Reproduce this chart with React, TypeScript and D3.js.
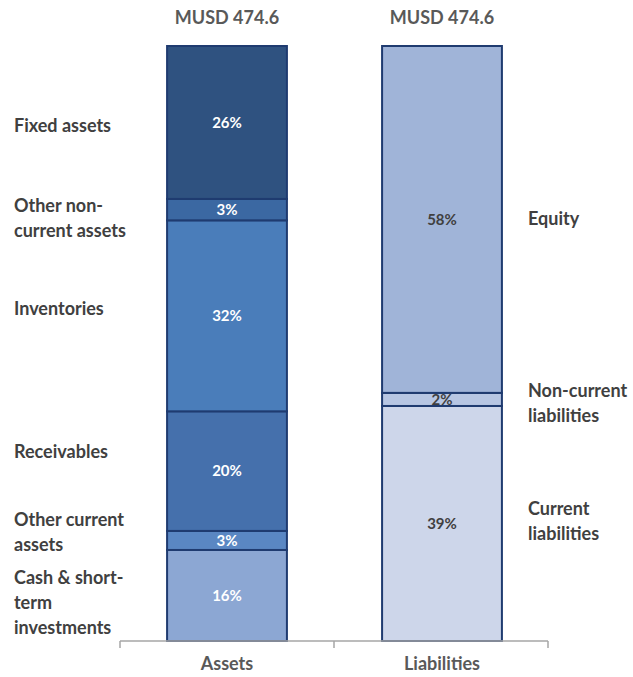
import React from "react";
import * as d3 from "d3";

const categories = ["Assets", "Liabilities"];
const totals = ["MUSD 474.6", "MUSD 474.6"];

// bottom-to-top stacks
const assetNames = ["Cash & short-term investments", "Other current assets", "Receivables", "Inventories", "Other non-current assets", "Fixed assets"];
const assetValues = [15.3, 3.2, 20.1, 32.1, 3.6, 25.7];
const assetLabels = ["16%", "3%", "20%", "32%", "3%", "26%"];

const liabNames = ["Current liabilities", "Non-current liabilities", "Equity"];
const liabValues = [39.5, 2.2, 58.3];
const liabLabels = ["39%", "2%", "58%"];

const assetColors = ["#8CA7D3", "#5A87C3", "#4570AC", "#4A7DBA", "#3B68A2", "#2F5280"];
const liabColors = ["#CDD6EA", "#B7C6E3", "#A0B4D8"];

// side annotation text layout (lines, anchor y of first line center)
const leftNotes = [
  { lines: ["Fixed assets"], y: 126 },
  { lines: ["Other non-", "current assets"], y: 206 },
  { lines: ["Inventories"], y: 309 },
  { lines: ["Receivables"], y: 452 },
  { lines: ["Other current", "assets"], y: 520 },
  { lines: ["Cash & short-", "term", "investments"], y: 578 },
];
const rightNotes = [
  { lines: ["Equity"], y: 219 },
  { lines: ["Non-current", "liabilities"], y: 391 },
  { lines: ["Current", "liabilities"], y: 509 },
];

const W = 633;
const H = 677;
const FONT = "Lato, 'Open Sans', sans-serif";

export default function App() {
  const x = d3.scaleBand<string>().domain(categories).range([120, 548]).paddingInner(0).paddingOuter(0);
  const y = d3.scaleLinear().domain([0, 100]).range([641, 46]);
  const barW = x.bandwidth() * 0.56;

  const stacks = [
    { values: assetValues, labels: assetLabels, colors: assetColors, textColor: "#FFFFFF" },
    { values: liabValues, labels: liabLabels, colors: liabColors, textColor: "#404040" },
  ];

  const lineH = 25;

  return (
    <svg width={W} height={H} style={{ position: "absolute", left: 0, top: 0, background: "#fff" }}>
      {stacks.map((s, ci) => {
        const cx = (x(categories[ci]) as number) + x.bandwidth() / 2 + ci;
        const cum = d3.cumsum(s.values);
        return (
          <g key={ci}>
            {s.values.map((v, i) => {
              const y0 = y(cum[i] - v);
              const y1 = y(cum[i]);
              return (
                <g key={i}>
                  <rect x={cx - barW / 2} y={y1} width={barW} height={y0 - y1} fill={s.colors[i]} stroke="#1F3B70" strokeWidth={2} />
                  <text x={cx} y={(y0 + y1) / 2} dy="0.35em" textAnchor="middle" fill={s.textColor} fontFamily={FONT} fontWeight="bold" fontSize={15}>
                    {s.labels[i]}
                  </text>
                </g>
              );
            })}
            <text x={cx} y={18} dy="0.35em" textAnchor="middle" fill="#595959" fontFamily={FONT} fontWeight="bold" fontSize={18}>
              {totals[ci]}
            </text>
            <text x={cx} y={664} dy="0.35em" textAnchor="middle" fill="#595959" fontFamily={FONT} fontWeight="bold" fontSize={18}>
              {categories[ci]}
            </text>
          </g>
        );
      })}
      <line x1={120} x2={548} y1={641} y2={641} stroke="#A6A6A6" strokeWidth={1.5} />
      {[120, 334, 548].map((tx, i) => (
        <line key={i} x1={tx} x2={tx} y1={641} y2={648} stroke="#A6A6A6" strokeWidth={1.5} />
      ))}
      {leftNotes.map((n, i) => (
        <text key={i} fill="#404040" fontFamily={FONT} fontWeight="bold" fontSize={18}>
          {n.lines.map((l, j) => (
            <tspan key={j} x={14} y={n.y + j * lineH} dy="0.35em">{l}</tspan>
          ))}
        </text>
      ))}
      {rightNotes.map((n, i) => (
        <text key={i} fill="#404040" fontFamily={FONT} fontWeight="bold" fontSize={18}>
          {n.lines.map((l, j) => (
            <tspan key={j} x={528} y={n.y + j * lineH} dy="0.35em">{l}</tspan>
          ))}
        </text>
      ))}
    </svg>
  );
}
